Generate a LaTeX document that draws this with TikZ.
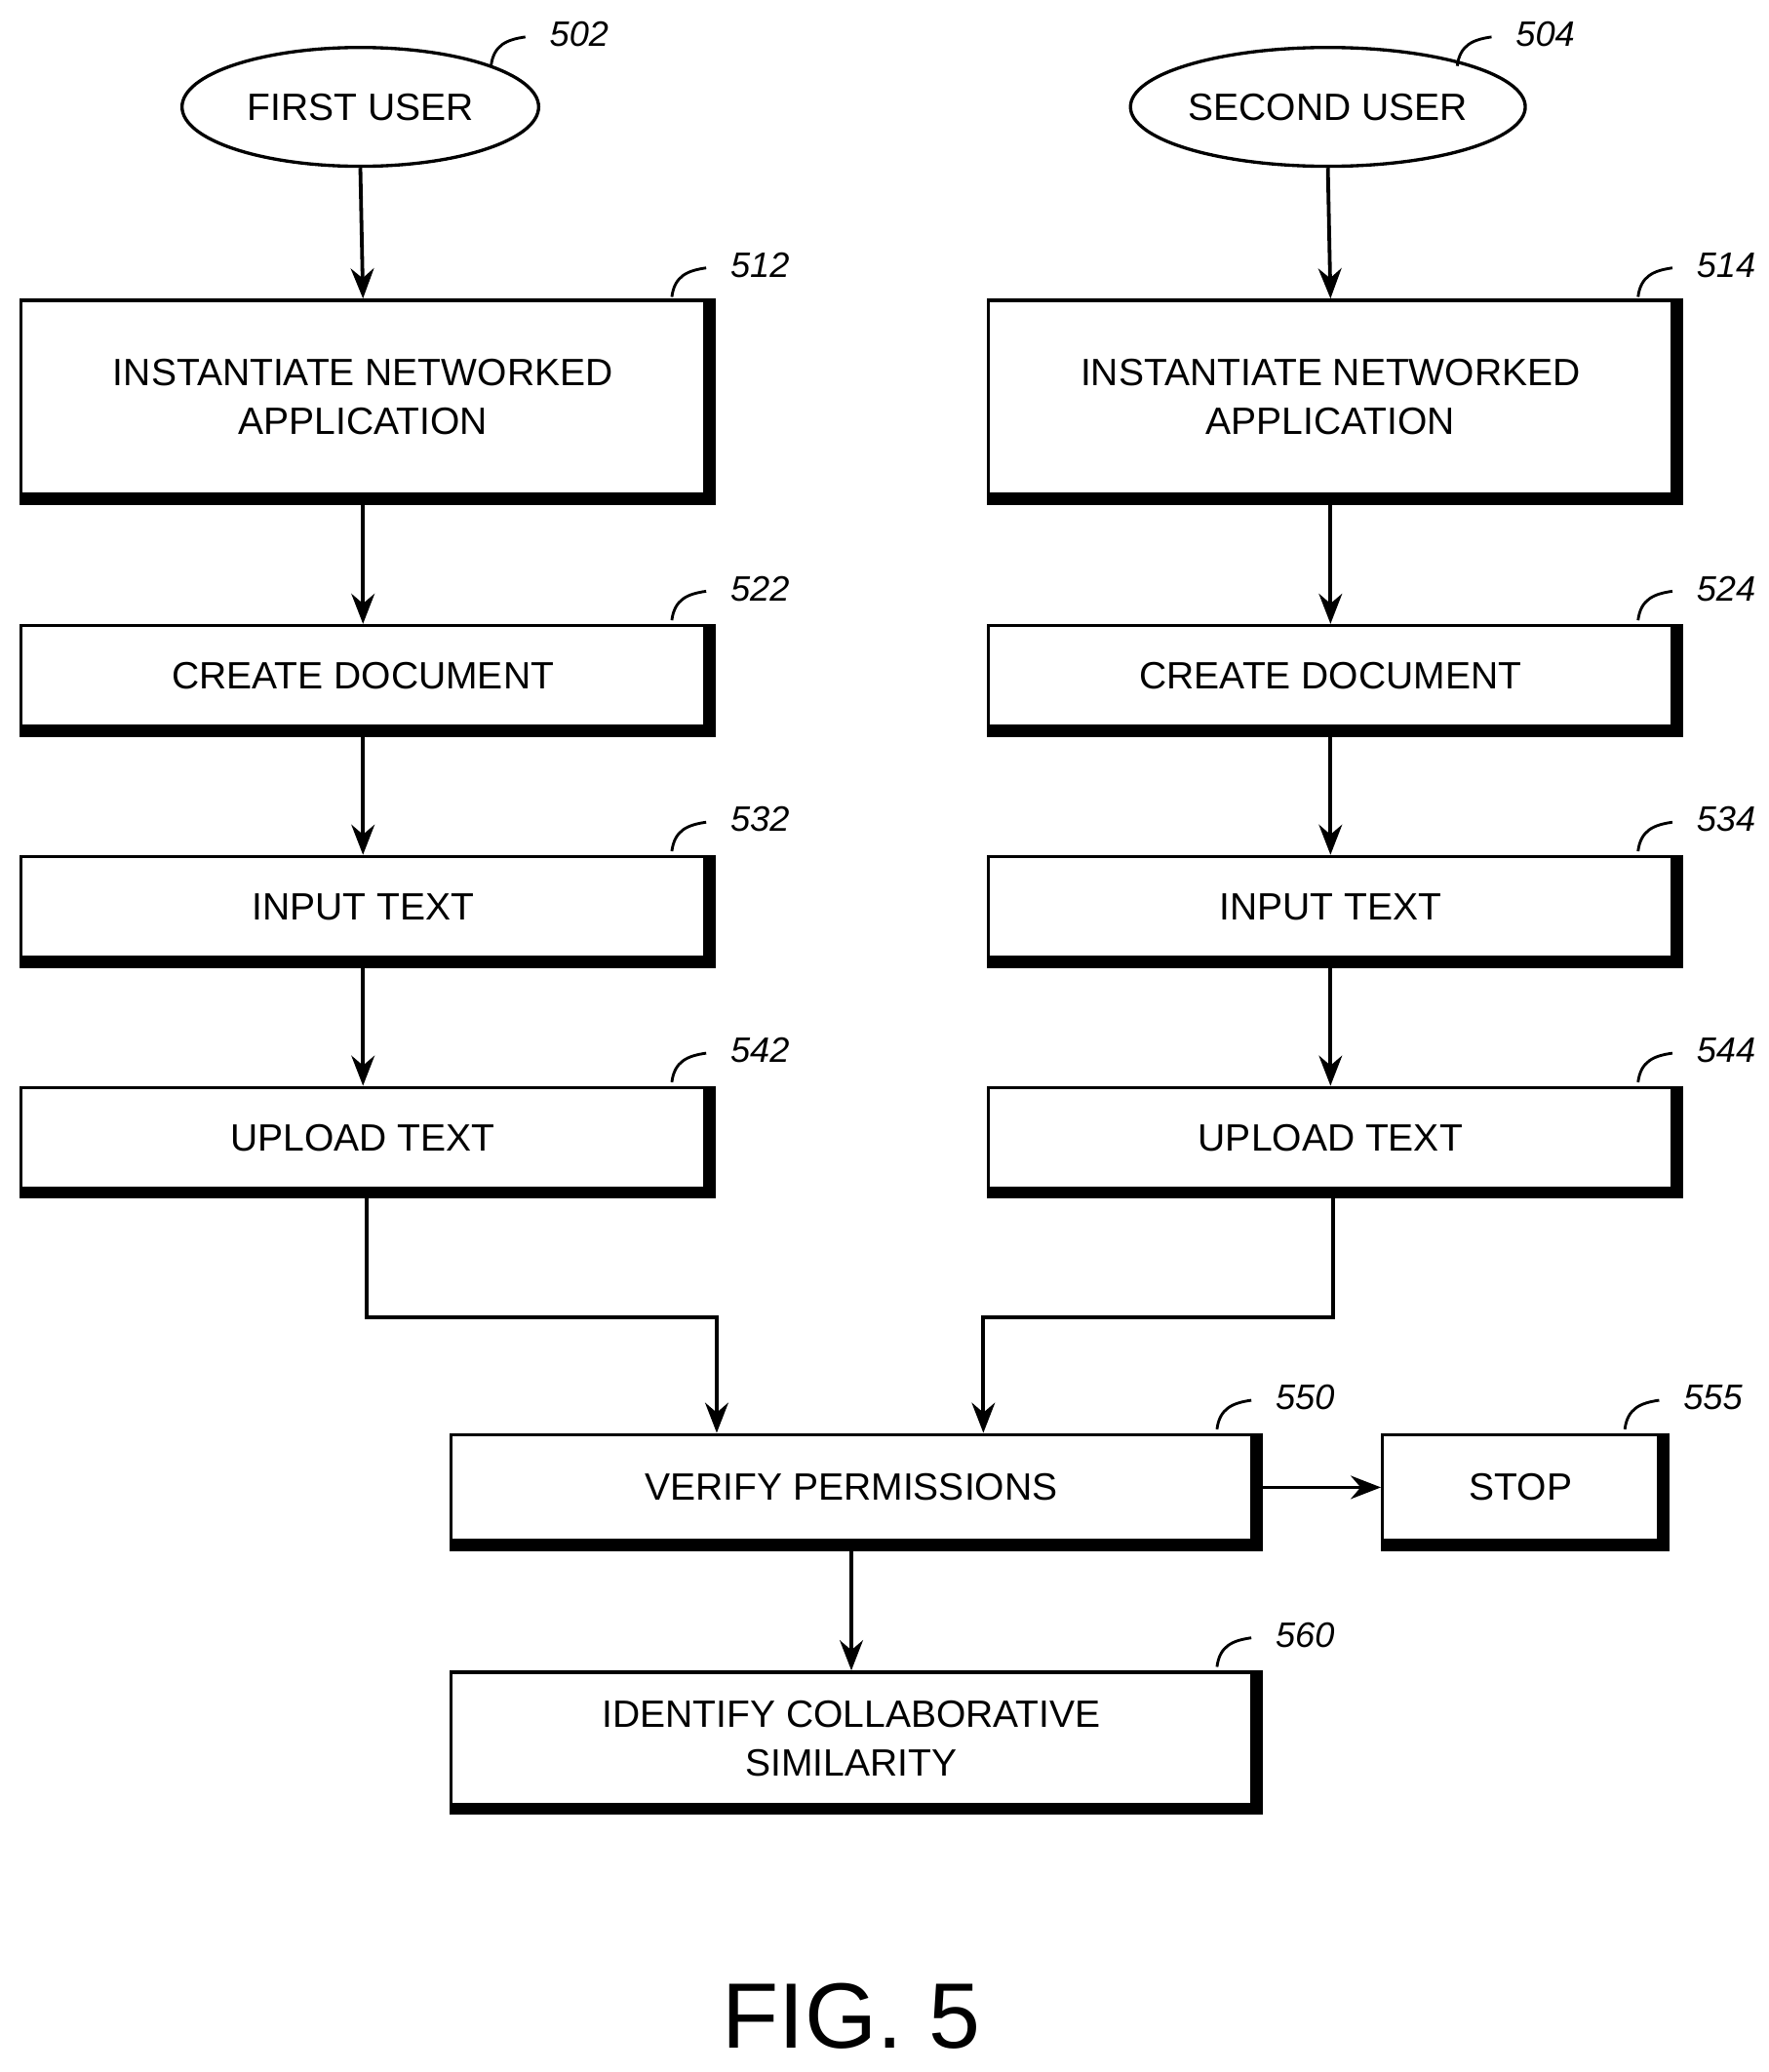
\documentclass[tikz,border=0pt]{standalone}
\usepackage{fontspec}
\setmainfont{Liberation Sans}
\usetikzlibrary{arrows.meta,shapes.geometric}
\begin{document}
\begin{tikzpicture}[x=0.01cm,y=-0.01cm,
 box/.style={draw,line width=0.7pt,rectangle,inner sep=0pt,align=center,font=\fontsize{8.2}{10.5}\selectfont},
 ell/.style={draw,line width=0.7pt,ellipse,inner sep=0pt,font=\fontsize{8.2}{10.5}\selectfont},
 arr/.style={line width=0.8pt,-{Stealth[length=6.5pt,width=5pt]}},
 lab/.style={font=\itshape\fontsize{7.6}{9}\selectfont,anchor=west},
 hook/.style={line width=0.6pt}]
\useasboundingbox (0,0) rectangle (1340,1570);
\newcommand{\shadowit}[1]{\draw[line width=2pt] ([xshift=1pt]#1.north east) -- ([xshift=1pt,yshift=-1pt]#1.south east) -- ([yshift=-1pt]#1.south west);}
\newcommand{\tagit}[3]{\draw[hook] (#1-26,#2+22) .. controls (#1-24,#2+6) and (#1-14,#2+2) .. (#1,#2); \node[lab] at (#1+6,#2-2) {#3};}
% ellipses
\node[ell,minimum width=270\pgflinewidth/0.7,minimum width=2.7cm,minimum height=0.9cm] (e1) at (273,81) {FIRST USER};
\node[ell,minimum width=2.68cm,minimum height=0.9cm] (e2) at (1006,81) {SECOND USER};
\tagit{398}{28}{502}
\tagit{1130}{28}{504}
% boxes left
\node[box,minimum width=5.18cm,minimum height=1.47cm] (b512) at (275,301) {INSTANTIATE NETWORKED\\APPLICATION};
\node[box,minimum width=5.18cm,minimum height=0.76cm] (b522) at (275,512) {CREATE DOCUMENT};
\node[box,minimum width=5.18cm,minimum height=0.76cm] (b532) at (275,687) {INPUT TEXT};
\node[box,minimum width=5.18cm,minimum height=0.76cm] (b542) at (275,862) {UPLOAD TEXT};
% boxes right
\node[box,minimum width=5.18cm,minimum height=1.47cm] (b514) at (1008,301) {INSTANTIATE NETWORKED\\APPLICATION};
\node[box,minimum width=5.18cm,minimum height=0.76cm] (b524) at (1008,512) {CREATE DOCUMENT};
\node[box,minimum width=5.18cm,minimum height=0.76cm] (b534) at (1008,687) {INPUT TEXT};
\node[box,minimum width=5.18cm,minimum height=0.76cm] (b544) at (1008,862) {UPLOAD TEXT};
% bottom
\node[box,minimum width=6.06cm,minimum height=0.8cm] (b550) at (645,1127) {VERIFY PERMISSIONS};
\node[box,minimum width=2.09cm,minimum height=0.8cm] (b555) at (1152,1127) {STOP};
\node[box,minimum width=6.06cm,minimum height=1.0cm] (b560) at (645,1317) {IDENTIFY COLLABORATIVE\\SIMILARITY};
\foreach \n in {b512,b522,b532,b542,b514,b524,b534,b544,b550,b555,b560}{\shadowit{\n}}
\tagit{535}{203}{512}
\tagit{535}{448}{522}
\tagit{535}{623}{532}
\tagit{535}{798}{542}
\tagit{1267}{203}{514}
\tagit{1267}{448}{524}
\tagit{1267}{623}{534}
\tagit{1267}{798}{544}
\tagit{948}{1061}{550}
\tagit{1257}{1061}{555}
\tagit{948}{1241}{560}
% connectors
\draw[arr] (e1.south) -- (b512.north);
\draw[arr] (e2.south) -- (b514.north);
\draw[arr] (b512) -- (b522);
\draw[arr] (b522) -- (b532);
\draw[arr] (b532) -- (b542);
\draw[arr] (b514) -- (b524);
\draw[arr] (b524) -- (b534);
\draw[arr] (b534) -- (b544);
\coordinate (c1) at (278,998);
\coordinate (c2) at (543,998);
\coordinate (c3) at (1010,998);
\coordinate (c4) at (745,998);
\draw[arr] (b542.south -| c1) -- (c1) -- (c2) -- (c2 |- b550.north);
\draw[arr] (b544.south -| c3) -- (c3) -- (c4) -- (c4 |- b550.north);
\draw[arr] (b550.east) -- (b555.west);
\draw[arr] (b550) -- (b560);
\node[font=\fontsize{20}{24}\selectfont] (fig) at (645,1528) {FIG. 5};
\end{tikzpicture}
\end{document}
